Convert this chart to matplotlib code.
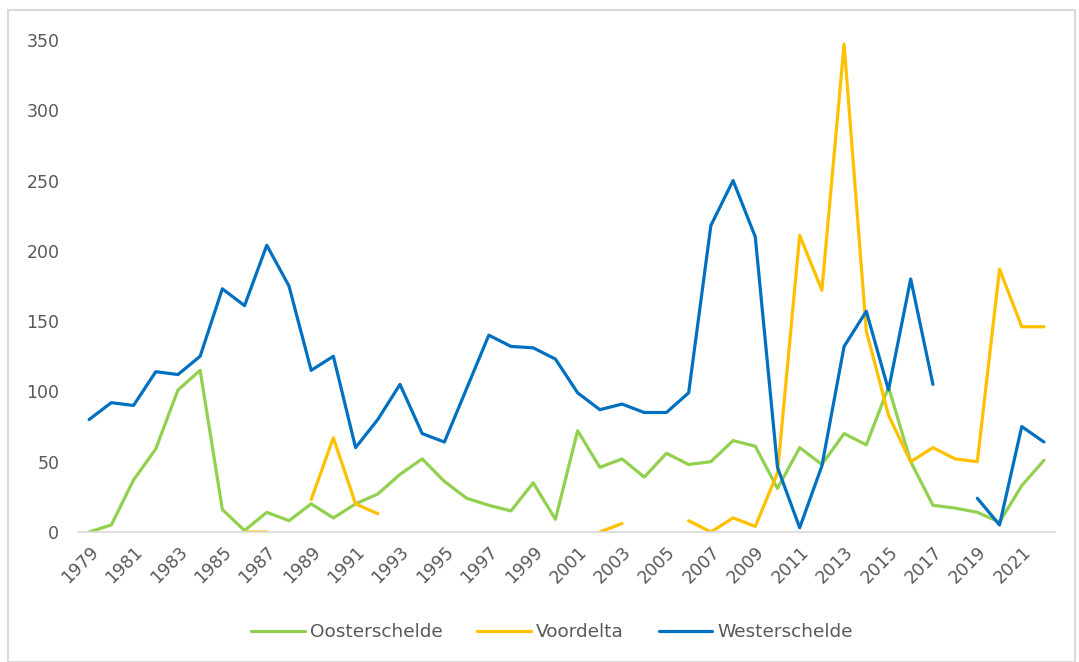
import numpy as np
import matplotlib.pyplot as plt
from matplotlib.patches import Rectangle

nan = np.nan

years = list(range(1979, 2023))

oosterschelde = [0, 5, 37, 59, 101, 115, 16, 1, 14, 8, 20, 10,
                 20, 27, 41, 52, 36, 24, 19, 15, 35, 9, 72, 46,
                 52, 39, 56, 48, 50, 65, 61, 31, 60, 48, 70, 62,
                 103, 50, 19, 17, 14, 7, 33, 51]

voordelta = [nan, nan, nan, nan, nan, nan, nan, 0, 0, nan, 23, 67,
             20, 13, nan, nan, nan, nan, nan, nan, nan, nan, nan, 0,
             6, nan, nan, 8, 0, 10, 4, 42, 211, 172, 347, 143,
             83, 50, 60, 52, 50, 187, 146, 146]

westerschelde = [80, 92, 90, 114, 112, 125, 173, 161, 204, 175, 115, 125,
                 60, 80, 105, 70, 64, 102, 140, 132, 131, 123, 99, 87,
                 91, 85, 85, 99, 218, 250, 210, 46, 3, 47, 132, 157,
                 101, 180, 105, nan, 24, 5, 75, 64]

series = [("Oosterschelde", oosterschelde, "#92D050"),
          ("Voordelta", voordelta, "#FFC000"),
          ("Westerschelde", westerschelde, "#0070C0")]

label_years = years[::2]
text_col = "#595959"

plt.rcParams['font.family'] = ['DejaVu Sans']

fig = plt.figure(figsize=(10.79, 6.62), dpi=100)
ax = fig.add_axes([0.0723, 0.1964, 0.9055, 0.7432])

for name, vals, col in series:
    ax.plot(years, vals, color=col, lw=2.3, label=name,
            solid_capstyle='round', solid_joinstyle='round')

ax.set_xlim(1978.5, 2022.5)
ax.set_ylim(0, 350)
ax.set_yticks(range(0, 351, 50))
ax.set_xticks(label_years)
ax.set_xticklabels([str(y) for y in label_years], rotation=45,
                   ha='right', rotation_mode='anchor')

for s in ['top', 'right', 'left']:
    ax.spines[s].set_visible(False)
ax.spines['bottom'].set_color('#d9d9d9')
ax.spines['bottom'].set_linewidth(1.2)
ax.tick_params(axis='both', length=0, colors=text_col, labelsize=12.5)
ax.tick_params(axis='y', pad=13.5)
ax.tick_params(axis='x', pad=8)

fig.legend(loc='center', bbox_to_anchor=(552 / 1079, 1 - 632 / 662), ncol=3,
           frameon=False, fontsize=13.3, labelcolor=text_col,
           handlelength=2.9, handletextpad=0.27, columnspacing=1.9)

# light outer border like the chart frame
fig.patches.append(Rectangle((8 / 1079, 0), 1067 / 1079, 652 / 662,
                             transform=fig.transFigure, fill=False,
                             edgecolor='#d9d9d9', lw=1.5))

fig.savefig('out.png', dpi=100)
